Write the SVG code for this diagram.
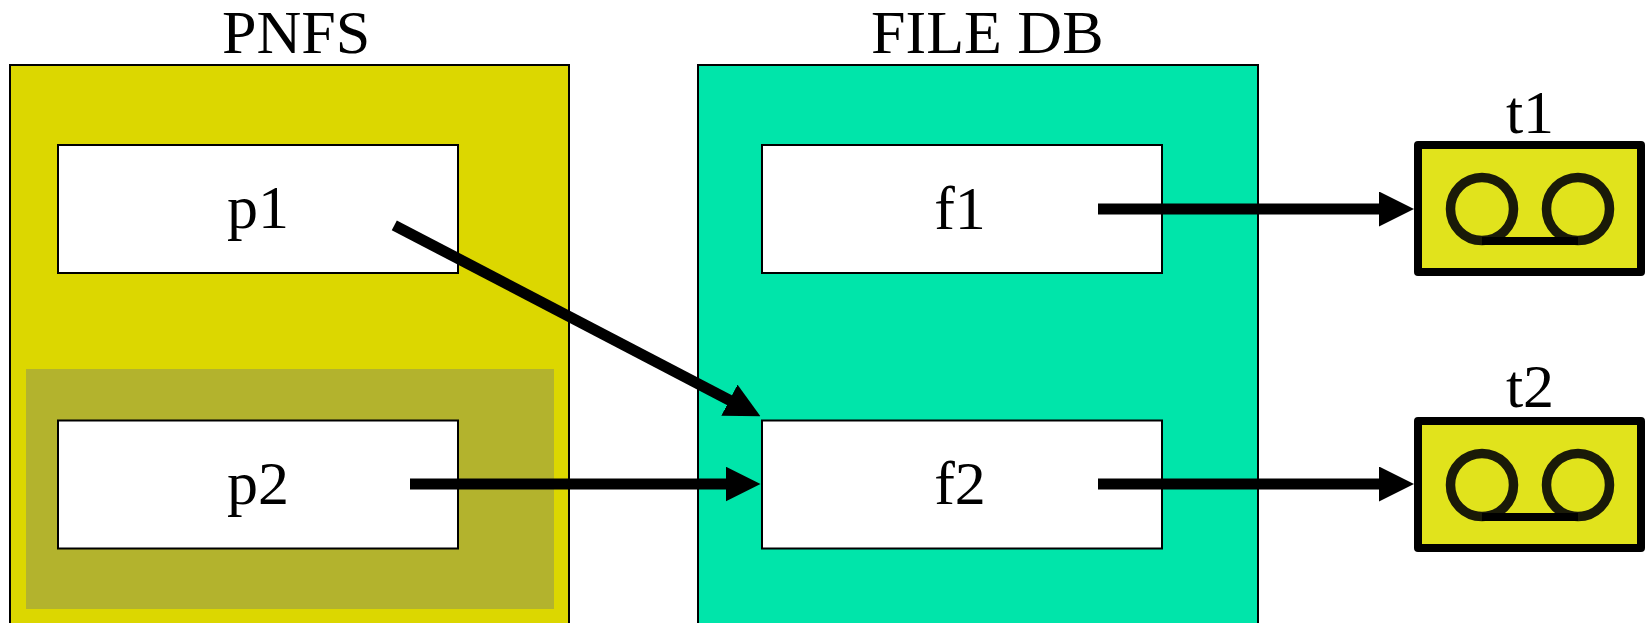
<svg xmlns="http://www.w3.org/2000/svg" width="1649" height="623" viewBox="0 0 1649 623">
  <style>
    text { font-family: "Liberation Serif", "Times New Roman", serif; font-size: 62px; fill: #000; }
    .box { fill: #ffffff; stroke: #000; stroke-width: 2; }
    .tape { fill: #e1e31c; stroke: #000; stroke-width: 8; stroke-linejoin: round; }
    .reel { fill: none; stroke: #1a1a08; stroke-width: 9.5; }
    .band { stroke: #000; stroke-width: 8; }
    .conn { stroke: #000; stroke-width: 11; fill: none; }
  </style>
  <defs>
    <marker id="arrow" markerUnits="userSpaceOnUse" viewBox="0 -17.5 35 35" markerWidth="35" markerHeight="35" refX="1" refY="0" orient="auto">
      <path d="M0,-17.5 L35,0 L0,17.5 Z" fill="#000"/>
    </marker>
  </defs>

  <g id="pnfs">
    <rect x="10" y="65" width="559" height="600" fill="#dcd700" stroke="#000" stroke-width="2"/>
    <rect x="26" y="369" width="528" height="240" fill="#b3b32d"/>
    <text x="222" y="53">PNFS</text>
  </g>

  <g id="filedb">
    <rect x="698" y="65" width="560" height="600" fill="#00e5aa" stroke="#000" stroke-width="2"/>
    <text x="871" y="53">FILE DB</text>
  </g>

  <g id="p1">
    <rect class="box" x="58" y="145" width="400" height="128"/>
    <text x="258" y="228" text-anchor="middle">p1</text>
  </g>
  <g id="p2">
    <rect class="box" x="58" y="420.5" width="400" height="128"/>
    <text x="258" y="503.5" text-anchor="middle">p2</text>
  </g>
  <g id="f1">
    <rect class="box" x="762" y="145" width="400" height="128"/>
    <text x="960" y="229" text-anchor="middle">f1</text>
  </g>
  <g id="f2">
    <rect class="box" x="762" y="420.5" width="400" height="128"/>
    <text x="960" y="504" text-anchor="middle">f2</text>
  </g>

  <g id="t1">
    <rect class="tape" x="1418" y="145" width="223" height="127"/>
    <circle class="reel" cx="1482" cy="209" r="31.5"/>
    <circle class="reel" cx="1578" cy="209" r="31.5"/>
    <line class="band" x1="1482" y1="241" x2="1578" y2="241"/>
    <text x="1530" y="133" text-anchor="middle">t1</text>
  </g>
  <g id="t2">
    <rect class="tape" x="1418" y="421" width="223" height="127"/>
    <circle class="reel" cx="1482" cy="485" r="31.5"/>
    <circle class="reel" cx="1578" cy="485" r="31.5"/>
    <line class="band" x1="1482" y1="517" x2="1578" y2="517"/>
    <text x="1530" y="407" text-anchor="middle">t2</text>
  </g>

  <g id="connectors">
    <line class="conn" x1="394.3" y1="225.3" x2="730.3" y2="400.6" marker-end="url(#arrow)"/>
    <line class="conn" x1="410" y1="484" x2="726.5" y2="484" marker-end="url(#arrow)"/>
    <line class="conn" x1="1098" y1="209" x2="1380" y2="209" marker-end="url(#arrow)"/>
    <line class="conn" x1="1098" y1="484" x2="1380" y2="484" marker-end="url(#arrow)"/>
  </g>
</svg>
